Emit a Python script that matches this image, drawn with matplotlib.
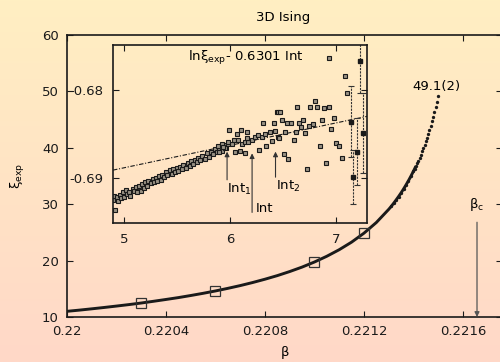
import numpy as np
import matplotlib
matplotlib.use("Agg")
import matplotlib.pyplot as plt

plt.rcParams["font.family"] = ["DejaVu Sans"]
plt.rcParams["font.size"] = 9.5
plt.rcParams["mathtext.default"] = "regular"

# main panel: xi_exp vs beta (dense part drawn as a thick line, tail as dots)
BETA_SMOOTH = [0.22000, 0.22005, 0.22010, 0.22015, 0.22020, 0.22025, 0.22030,
               0.22035, 0.22040, 0.22045, 0.22050, 0.22055, 0.22060, 0.22065,
               0.22070, 0.22075, 0.22080, 0.22085, 0.22090, 0.22095, 0.22100,
               0.22105, 0.22110, 0.22115, 0.22120, 0.22125, 0.22130]
XI_SMOOTH = [11.01, 11.22, 11.45, 11.69, 11.94, 12.20, 12.48, 12.79, 13.11,
             13.44, 13.81, 14.20, 14.62, 15.08, 15.57, 16.11, 16.70, 17.34,
             18.06, 18.85, 19.75, 20.77, 21.93, 23.27, 24.86, 26.75, 29.08]
BETA_TAIL = [0.22131, 0.22132, 0.22133, 0.22134, 0.22135, 0.22136, 0.22137,
             0.22138, 0.22139, 0.221400, 0.221405, 0.221410, 0.221415, 0.221420,
             0.221425, 0.221430, 0.221435, 0.221440, 0.221445, 0.221450,
             0.221455, 0.221460, 0.221465, 0.221470, 0.221475, 0.221480,
             0.221485, 0.221490, 0.221495, 0.221500]
XI_TAIL = [29.60, 30.16, 30.75, 31.36, 32.00, 32.69, 33.41, 34.17, 34.98,
           35.84, 36.29, 36.76, 37.24, 37.74, 38.26, 38.80, 39.35, 39.93,
           40.53, 41.15, 41.80, 42.48, 43.18, 43.92, 44.68, 45.49, 46.34,
           47.22, 48.15, 49.12]
N_JOINED = 12  # tail points still merged into the line
BETA_BOX = [0.2203, 0.2206, 0.2210, 0.2212]
XI_BOX = [12.5, 14.6, 19.8, 24.9]
BETA_C = 0.221657

X_TICKS = [0.2200, 0.2204, 0.2208, 0.2212, 0.2216]
X_LABELS = ["0.22", "0.2204", "0.2208", "0.2212", "0.2216"]
Y_TICKS = [10, 20, 30, 40, 50, 60]

# inset: ln xi_exp - 0.6301 ln t  vs  ln t
INS_X = [4.900, 4.910, 4.915, 4.930, 4.940, 4.960, 4.970, 4.990, 5.000, 5.020,
         5.030, 5.050, 5.060, 5.080, 5.090, 5.110, 5.120, 5.140, 5.160, 5.170,
         5.190, 5.200, 5.220, 5.230, 5.250, 5.270, 5.280, 5.300, 5.310, 5.330,
         5.350, 5.360, 5.380, 5.400, 5.410, 5.430, 5.450, 5.460, 5.480, 5.500,
         5.510, 5.530, 5.550, 5.560, 5.580, 5.600, 5.620, 5.630, 5.650, 5.670,
         5.690, 5.700, 5.720, 5.740, 5.760, 5.780, 5.800, 5.820, 5.840, 5.860,
         5.880, 5.900, 5.920, 5.940, 5.960, 5.980,
         5.890, 5.921, 5.953, 5.984, 6.016, 6.041, 6.073, 6.110, 6.142, 6.173,
         6.205, 6.236, 6.267, 6.299, 6.330, 6.377, 6.425, 5.994, 6.063, 6.104,
         6.163, 6.314, 6.415, 6.441, 5.896, 5.937, 6.047, 6.094, 6.277, 6.337,
         6.393, 6.456, 6.158, 6.142,
         6.934, 7.082, 7.107, 6.800, 6.632, 6.758, 6.821, 6.887, 6.931, 6.453,
         6.472, 6.487, 6.538, 6.573, 6.648, 6.686, 6.667, 6.749, 6.780, 6.865,
         6.978, 6.953, 6.519, 6.620, 6.708, 6.459, 6.604, 6.846, 7.003, 7.028,
         7.057, 6.507, 6.550, 6.909, 6.723]
INS_Y = [-0.6925, -0.6920, -0.6936, -0.6922, -0.6926, -0.6919, -0.6923, -0.6916,
         -0.6921, -0.6914, -0.6918, -0.6916, -0.6920, -0.6912, -0.6915, -0.6910,
         -0.6916, -0.6909, -0.6915, -0.6907, -0.6911, -0.6905, -0.6909, -0.6903,
         -0.6906, -0.6901, -0.6905, -0.6900, -0.6903, -0.6898, -0.6902, -0.6896,
         -0.6899, -0.6893, -0.6897, -0.6891, -0.6895, -0.6890, -0.6893, -0.6889,
         -0.6892, -0.6887, -0.6890, -0.6885, -0.6889, -0.6883, -0.6886, -0.6881,
         -0.6884, -0.6879, -0.6882, -0.6877, -0.6880, -0.6875, -0.6878, -0.6872,
         -0.6876, -0.6870, -0.6873, -0.6867, -0.6871, -0.6866, -0.6869, -0.6863,
         -0.6866, -0.6861,
         -0.6864, -0.6861, -0.6866, -0.6859, -0.6861, -0.6857, -0.6857, -0.6861,
         -0.6859, -0.6859, -0.6857, -0.6853, -0.6851, -0.6853, -0.6850, -0.6848,
         -0.6847, -0.6845, -0.6850, -0.6845, -0.6848, -0.6838, -0.6837, -0.6825,
         -0.6870, -0.6865, -0.6870, -0.6869, -0.6868, -0.6864, -0.6858, -0.6853,
         -0.6854, -0.6872,
         -0.6764, -0.6784, -0.6803, -0.6813, -0.6819, -0.6819, -0.6819, -0.6820,
         -0.6819, -0.6825, -0.6825, -0.6834, -0.6837, -0.6838, -0.6838, -0.6834,
         -0.6842, -0.6841, -0.6839, -0.6834, -0.6832, -0.6844, -0.6848, -0.6848,
         -0.6849, -0.6854, -0.6857, -0.6864, -0.6860, -0.6864, -0.6877, -0.6873,
         -0.6878, -0.6883, -0.6890]
ERR_X = [7.142, 7.164, 7.198, 7.229, 7.258]
ERR_Y = [-0.6836, -0.6899, -0.6870, -0.6767, -0.6849]
ERR_E = [0.0040, 0.0031, 0.0038, 0.0036, 0.0045]
FIT_X = [4.896, 7.292]
FIT_Y = [-0.6891, -0.6830]

INS_X_TICKS = [5, 6, 7]
INS_Y_TICKS = [-0.68, -0.69]
INS_Y_LABELS = ["-0.68", "-0.69"]

INK = "#1a1a1a"

fig = plt.figure(figsize=(5.0, 3.62), dpi=100)

# yellow -> pink vertical background
bg = fig.add_axes([0, 0, 1, 1], zorder=-10)
top = np.array([255, 239, 194]) / 255.0
bot = np.array([255, 216, 200]) / 255.0
t = np.linspace(0, 1, 256)[:, None]
grad = top * (1 - t) + bot * t
bg.imshow(grad[:, None, :], aspect="auto", extent=[0, 1, 0, 1])
bg.axis("off")

ax = fig.add_axes([0.134, 0.1243, 0.870, 0.779])
ax.set_facecolor("none")
ax.plot(BETA_SMOOTH + BETA_TAIL[:N_JOINED], XI_SMOOTH + XI_TAIL[:N_JOINED],
        color=INK, lw=2.1, solid_capstyle="butt")
ax.plot(BETA_TAIL, XI_TAIL, "o", color=INK, ms=2.4, mew=0)
ax.plot(BETA_BOX, XI_BOX, "s", ms=7.5, mfc="none", mec="#333333", mew=0.9)
ax.set_xlim(0.2200, 0.221758)
ax.set_ylim(10, 60)
ax.set_xticks(X_TICKS)
ax.set_xticklabels(X_LABELS)
ax.set_yticks(Y_TICKS)
ax.tick_params(direction="in", top=True, right=True, length=4, width=0.8,
               colors=INK)
ax.tick_params(axis="x", pad=6)
ax.tick_params(axis="y", pad=6)
for s in ax.spines.values():
    s.set_linewidth(1.2)
    s.set_color(INK)
ax.set_xlabel(r"$\beta$")
ax.xaxis.set_label_coords(0.5, -0.095)
ax.set_ylabel(r"$\xi_{exp}$")
ax.yaxis.set_label_coords(-0.092, 0.50)

ax.text(0.221495, 50.8, "49.1(2)", ha="center", va="center")
ax.text(BETA_C, 29.9, r"$\beta_c$", ha="center", va="center")
ax.annotate("", xy=(BETA_C, 10), xytext=(BETA_C, 26.8),
            arrowprops=dict(arrowstyle="-|>", color="#555555", lw=0.9,
                            mutation_scale=7, shrinkA=0, shrinkB=0))

fig.text(0.566, 1 - 17 / 362, "3D Ising", ha="center", va="center")

# inset
ins = fig.add_axes([0.226, 0.384, 0.508, 0.4917])
ins.set_facecolor("none")
ins.plot(FIT_X, FIT_Y, color=INK, lw=0.8, dashes=(4, 1.5, 1, 1.5))
ins.plot(INS_X, INS_Y, "s", ms=2.6, mfc="#9a9284", mec=INK, mew=0.8)
bars = ins.errorbar(ERR_X, ERR_Y, yerr=ERR_E, fmt="s", ms=3, color=INK,
                    ecolor="#333333", elinewidth=0.8, capsize=2, capthick=0.8,
                    ls="none")
bars[2][0].set_linestyle((0, (2, 1)))
ins.set_xlim(4.896, 7.292)
ins.set_ylim(-0.6951, -0.6749)
ins.set_xticks(INS_X_TICKS)
ins.set_yticks(INS_Y_TICKS)
ins.set_yticklabels(INS_Y_LABELS)
ins.tick_params(direction="in", top=True, right=True, length=4, width=0.8,
                colors=INK, pad=7)
for s in ins.spines.values():
    s.set_linewidth(1.2)
    s.set_color(INK)

ins.text(5.604, -0.6764, r"ln$\xi_{exp}$- 0.6301 Int", ha="left", va="center")

arrow_kw = dict(arrowstyle="-|>", color="#333333", lw=0.8, mutation_scale=7,
                shrinkA=0, shrinkB=0)
ins.annotate("", xy=(5.972, -0.6870), xytext=(5.972, -0.6902), arrowprops=arrow_kw)
ins.annotate("", xy=(6.208, -0.6872), xytext=(6.208, -0.6939), arrowprops=arrow_kw)
ins.annotate("", xy=(6.429, -0.6870), xytext=(6.429, -0.6899), arrowprops=arrow_kw)
ins.text(5.972, -0.6913, r"Int$_1$", ha="left", va="center")
ins.text(6.245, -0.6934, "Int", ha="left", va="center")
ins.text(6.434, -0.6909, r"Int$_2$", ha="left", va="center")

fig.savefig("out.png", dpi=100)
